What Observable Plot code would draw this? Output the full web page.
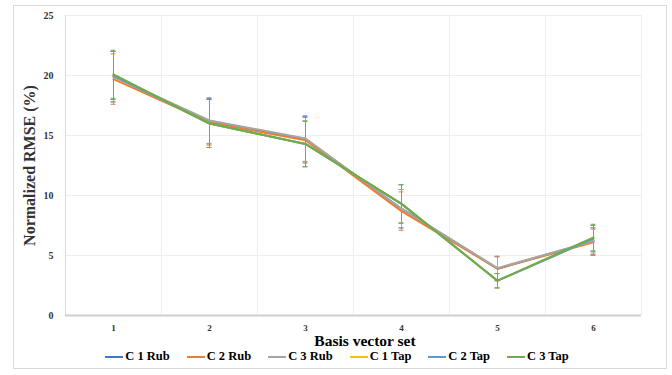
<!DOCTYPE html>
<html>
<head>
<meta charset="utf-8">
<script src="https://cdn.jsdelivr.net/npm/d3@7"></script>
<script src="https://cdn.jsdelivr.net/npm/@observablehq/plot@0.6"></script>
<style>
  body { margin: 0; background: #fff; }
  #wrap { position: relative; width: 672px; height: 375px; font-family: "Liberation Serif", "Times New Roman", serif; }
  #border { position: absolute; left: 13px; top: 5px; width: 654px; height: 364px; border: 1px solid #d9d9d9; box-sizing: border-box; }
  #chart { position: absolute; left: 0; top: 0; }
  #xtitle { position: absolute; left: 0; width: 672px; top: 332px; text-align: center; font-weight: bold; font-size: 15.5px; padding-left: 58px; box-sizing: border-box; }
  #legend { position: absolute; left: 0; width: 672px; top: 349px; display: flex; justify-content: center; gap: 17px; font-weight: bold; font-size: 12.5px; padding-left: 2px; box-sizing: border-box; }
  #legend span.item { display: inline-flex; align-items: center; }
  #legend span.sw { display: inline-block; width: 18px; height: 2px; margin-right: 2px; }
</style>
</head>
<body>
<div id="wrap">
  <div id="border"></div>
  <div id="chart"></div>
  <div id="xtitle">Basis vector set</div>
  <div id="legend"></div>
</div>
<script>
// Basis vector sets on the x axis
const sets = [1, 2, 3, 4, 5, 6];
const seriesNames = ["C 1 Rub", "C 2 Rub", "C 3 Rub", "C 1 Tap", "C 2 Tap", "C 3 Tap"];
const seriesColors = ["#4472c4", "#ed7d31", "#a5a5a5", "#ffc000", "#5b9bd5", "#70ad47"];

// Normalized RMSE (%) per series
const c1Rub = [19.9, 16.2, 14.7, 8.9, 3.9, 6.2];
const c2Rub = [19.7, 16.1, 14.6, 8.7, 3.9, 6.1];
const c3Rub = [19.9, 16.25, 14.75, 8.9, 3.95, 6.2];
const c1Tap = [20.0, 16.0, 14.3, 9.3, 2.9, 6.4];
const c2Tap = [20.0, 16.0, 14.3, 9.3, 2.9, 6.4];
const c3Tap = [20.1, 16.0, 14.3, 9.3, 2.9, 6.5];

// Error (±) per series
const errRub = [2.1, 1.9, 1.9, 1.6, 1.0, 1.1];
const errTap = [2.0, 2.0, 1.9, 1.6, 0.6, 1.1];

const yTicks = [0, 5, 10, 15, 20, 25];

const values = [c1Rub, c2Rub, c3Rub, c1Tap, c2Tap, c3Tap];
const errs = [errRub, errRub, errRub, errTap, errTap, errTap];

const rows = [];
seriesNames.forEach((name, s) => {
  sets.forEach((x, i) => {
    rows.push({series: name, x, y: values[s][i], lo: values[s][i] - errs[s][i], hi: values[s][i] + errs[s][i]});
  });
});

// vertical gridlines sit between the category positions
const gridX = [sets[0] - 0.5, ...sets.map(d => d + 0.5)];
const capHalf = 0.025;

const chart = Plot.plot({
  width: 672,
  height: 340,
  marginLeft: 65,
  marginRight: 31,
  marginTop: 15,
  marginBottom: 25,
  style: {fontFamily: "Liberation Serif, Times New Roman, serif", fontWeight: "bold", fontSize: "10px", color: "#333"},
  x: {domain: [0.5, 6.5]},
  y: {domain: [0, 25]},
  color: {domain: seriesNames, range: seriesColors},
  marks: [
    Plot.ruleY(yTicks, {stroke: "#eeeeee", strokeWidth: 1}),
    Plot.ruleX(gridX, {stroke: "#eeeeee", strokeWidth: 1}),
    Plot.ruleX([0.5], {stroke: "#d9d9d9", strokeWidth: 1}),
    Plot.ruleY([0], {stroke: "#d0d0d0", strokeWidth: 2}),
    Plot.axisY({ticks: yTicks, tickSize: 0, tickPadding: 12, fontSize: 10, fontWeight: "bold",
      label: "Normalized RMSE (%)", labelAnchor: "center", labelArrow: "none", labelOffset: 42}),
    Plot.axisX({ticks: sets, tickFormat: d => String(d), tickSize: 0, tickPadding: 9, fontSize: 9, fontWeight: "bold", label: null}),
    Plot.ruleX(rows, {x: "x", y1: "lo", y2: "hi", stroke: "series", strokeWidth: 1}),
    Plot.ruleY(rows, {y: "lo", x1: d => d.x - capHalf, x2: d => d.x + capHalf, stroke: "series", strokeWidth: 1}),
    Plot.ruleY(rows, {y: "hi", x1: d => d.x - capHalf, x2: d => d.x + capHalf, stroke: "series", strokeWidth: 1}),
    Plot.line(rows, {x: "x", y: "y", z: "series", stroke: "series", strokeWidth: 2})
  ]
});
// y-axis title styling
d3.select(chart).selectAll("g[aria-label='y-axis label'] text").style("font-size", "16px");
document.getElementById("chart").appendChild(chart);

const legend = d3.select("#legend");
seriesNames.forEach((name, i) => {
  const item = legend.append("span").attr("class", "item");
  item.append("span").attr("class", "sw").style("background", seriesColors[i]);
  item.append("span").text(name);
});
</script>
</body>
</html>
